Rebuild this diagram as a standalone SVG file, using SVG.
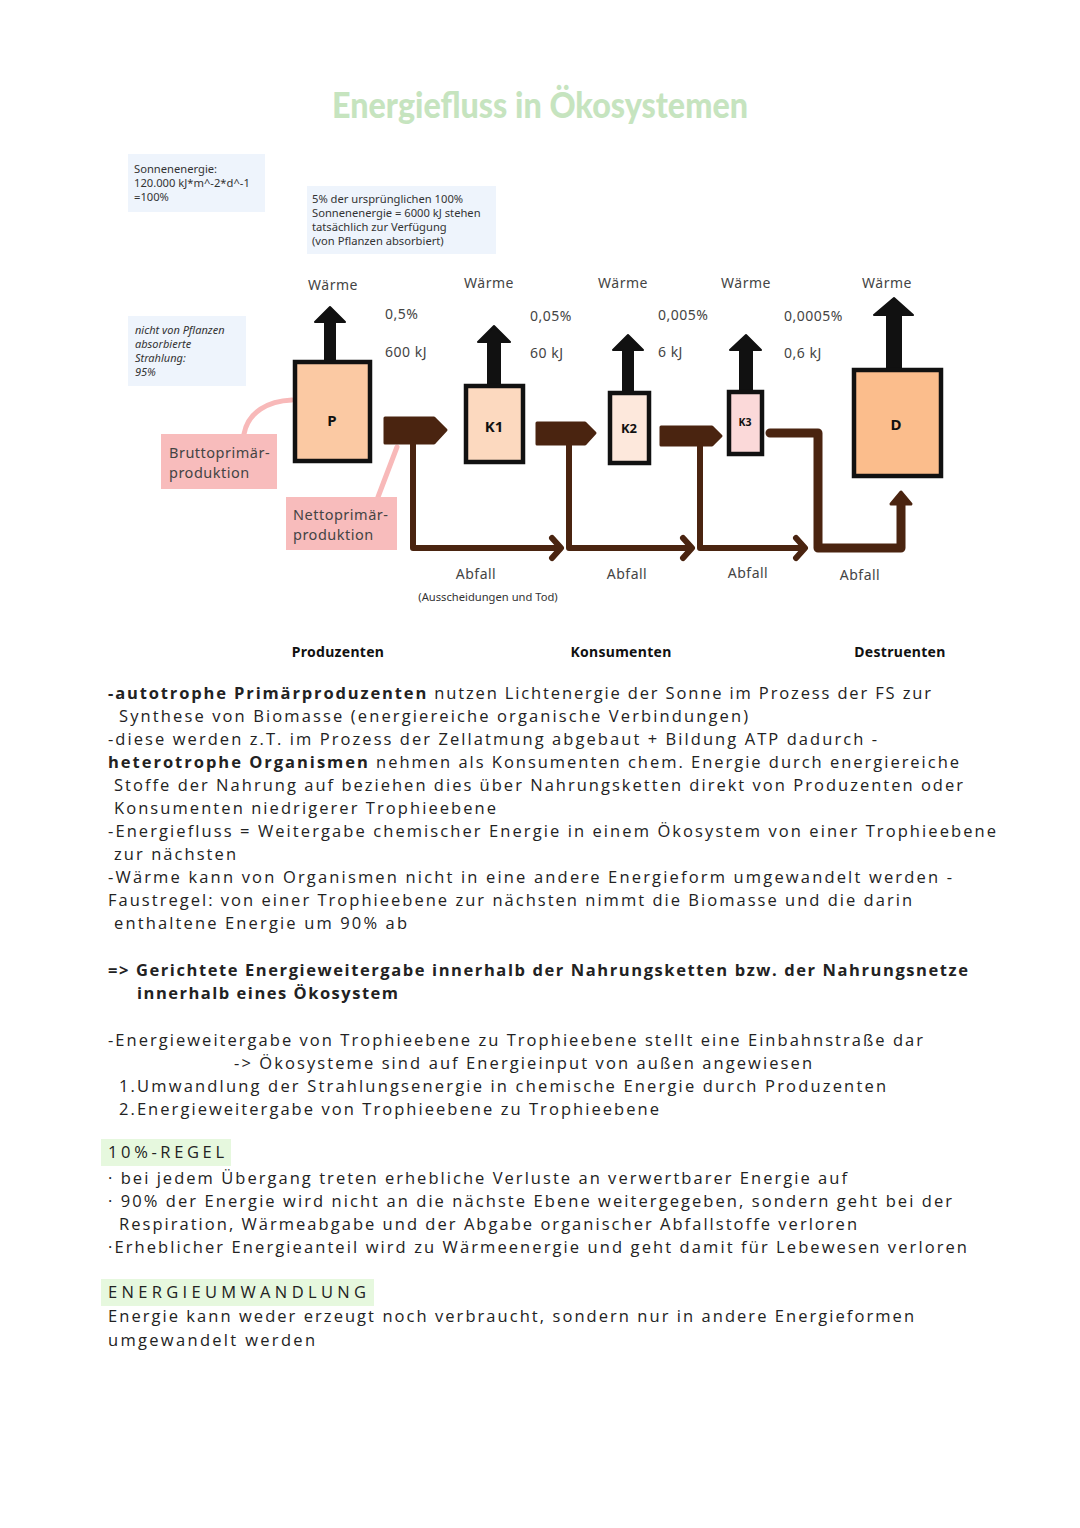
<svg xmlns="http://www.w3.org/2000/svg" width="1080" height="1528" viewBox="0 0 1080 1528">
<style>
.title{font-family:Lato,"Open Sans",sans-serif;font-weight:900;font-size:36px;fill:#c6e4bf}
.note{font-family:"Noto Sans","DejaVu Sans",sans-serif;font-size:11.2px;fill:#333}
.notei{font-family:"Noto Sans","DejaVu Sans",sans-serif;font-size:11px;fill:#333;font-style:italic}
.lbl{font-family:"Noto Sans","DejaVu Sans",sans-serif;font-size:14px;fill:#444;letter-spacing:0.5px}
.pink{font-family:"Noto Sans","DejaVu Sans",sans-serif;font-size:14.5px;fill:#444;letter-spacing:0.5px}
.node{font-family:"Noto Sans","DejaVu Sans",sans-serif;font-weight:bold;font-size:15px;fill:#111;text-anchor:middle}
.grp{font-family:"Noto Sans","DejaVu Sans",sans-serif;font-weight:bold;font-size:14px;fill:#111;text-anchor:middle;letter-spacing:0.3px}
.body{font-family:"Open Sans","Liberation Sans",sans-serif;font-size:16.5px;fill:#222;letter-spacing:1px}
.b{font-weight:bold}
.box{stroke:#111;stroke-width:4.5}
.heat{fill:#111;stroke:#111;stroke-width:2;stroke-linejoin:round}
.sign{fill:#4a2410;stroke:#4a2410;stroke-width:3;stroke-linejoin:round}
.flow{fill:none;stroke:#4a2410;stroke-width:6;stroke-linecap:round;stroke-linejoin:round}
.pinkline{fill:none;stroke:#f8b9b9;stroke-width:5;stroke-linecap:round}
</style>
<rect width="1080" height="1528" fill="#fff"/>
<text class="title" x="332" y="118" textLength="416" lengthAdjust="spacingAndGlyphs">Energiefluss in Ökosystemen</text>

<g id="note-sonne">
<rect x="128" y="154" width="137" height="58" fill="#eef4fc"/>
<text class="note" x="134" y="173">Sonnenenergie:</text>
<text class="note" x="134" y="187">120.000 kJ*m^-2*d^-1</text>
<text class="note" x="134" y="201">=100%</text>
</g>
<g id="note-absorbiert">
<rect x="307" y="186" width="189" height="68" fill="#eef4fc"/>
<text class="note" x="312" y="203">5% der ursprünglichen 100%</text>
<text class="note" x="312" y="217">Sonnenenergie = 6000 kJ stehen</text>
<text class="note" x="312" y="231">tatsächlich zur Verfügung</text>
<text class="note" x="312" y="245">(von Pflanzen absorbiert)</text>
</g>
<g id="note-nicht">
<rect x="128" y="316" width="118" height="70" fill="#eef4fc"/>
<text class="notei" x="135" y="334">nicht von Pflanzen</text>
<text class="notei" x="135" y="348">absorbierte</text>
<text class="notei" x="135" y="362">Strahlung:</text>
<text class="notei" x="135" y="376">95%</text>
</g>

<g id="connectors">
<path class="pinkline" d="M244,434 C248,412 268,401 292,400"/>
<path class="pinkline" d="M378,497 L397,447"/>
<polygon class="sign" points="385,418 434,418 446,430 434,443 385,443"/>
<polygon class="sign" points="537,423 585,423 595,433 585,444 537,444"/>
<polygon class="sign" points="661,427 712,427 721,436 712,445 661,445"/>
<path class="flow" d="M413,443 V548 H560 M552,538 L561,548 L552,558"/>
<path class="flow" d="M569,444 V548 H691 M683,538 L692,548 L683,558"/>
<path class="flow" d="M700,445 V548 H804 M796,538 L805,548 L796,558"/>
<path class="flow" style="stroke-width:9" d="M770,433 H818 V548 H901 V500"/>
<polygon class="sign" points="891,504 901,492 911,504"/>
<polygon class="heat" points="325,362 325,322 315,322 330,307 345,322 335,322 335,362"/>
<polygon class="heat" points="488,384 488,342 478,342 494,326 510,342 500,342 500,384"/>
<polygon class="heat" points="623,391 623,350 613,350 628,335 643,350 633,350 633,391"/>
<polygon class="heat" points="740,390 740,350 730,350 746,335 761,350 752,350 752,390"/>
<polygon class="heat" points="887,368 887,315 874,315 894,298 913,315 901,315 901,368"/>
</g>

<g id="node-P">
<rect class="box" x="295" y="362" width="75" height="99" fill="#fbc9a3"/>
<text class="node" x="332" y="426">P</text>
</g>
<g id="node-K1">
<rect class="box" x="466" y="386" width="57" height="76" fill="#fcd9bf"/>
<text class="node" x="494" y="432">K1</text>
</g>
<g id="node-K2">
<rect class="box" x="610" y="393" width="39" height="70" fill="#fde8dc"/>
<text class="node" x="629" y="433" style="font-size:13px">K2</text>
</g>
<g id="node-K3">
<rect class="box" x="729" y="392" width="33" height="62" fill="#fbd9d9"/>
<text class="node" x="745" y="426" style="font-size:10.5px">K3</text>
</g>
<g id="node-D">
<rect class="box" x="854" y="370" width="87" height="106" fill="#fbbd8c"/>
<text class="node" x="896" y="430">D</text>
</g>

<g id="pink-labels">
<rect x="161" y="434" width="116" height="55" fill="#f8bcbc"/>
<text class="pink" x="169" y="458">Bruttoprimär-</text>
<text class="pink" x="169" y="478">produktion</text>
<rect x="286" y="497" width="111" height="53" fill="#f8bcbc"/>
<text class="pink" x="293" y="520">Nettoprimär-</text>
<text class="pink" x="293" y="540">produktion</text>
</g>

<g id="labels">
<text class="lbl" x="333" y="290" text-anchor="middle">Wärme</text>
<text class="lbl" x="489" y="288" text-anchor="middle">Wärme</text>
<text class="lbl" x="623" y="288" text-anchor="middle">Wärme</text>
<text class="lbl" x="746" y="288" text-anchor="middle">Wärme</text>
<text class="lbl" x="887" y="288" text-anchor="middle">Wärme</text>
<text class="lbl" x="385" y="319">0,5%</text>
<text class="lbl" x="385" y="357">600 kJ</text>
<text class="lbl" x="530" y="321">0,05%</text>
<text class="lbl" x="530" y="358">60 kJ</text>
<text class="lbl" x="658" y="320">0,005%</text>
<text class="lbl" x="658" y="357">6 kJ</text>
<text class="lbl" x="784" y="321">0,0005%</text>
<text class="lbl" x="784" y="358">0,6 kJ</text>
<text class="lbl" x="476" y="579" text-anchor="middle">Abfall</text>
<text class="lbl" x="627" y="579" text-anchor="middle">Abfall</text>
<text class="lbl" x="748" y="578" text-anchor="middle">Abfall</text>
<text class="lbl" x="860" y="580" text-anchor="middle">Abfall</text>
<text class="note" x="488" y="601" text-anchor="middle">(Ausscheidungen und Tod)</text>
<text class="grp" x="338" y="657">Produzenten</text>
<text class="grp" x="621" y="657">Konsumenten</text>
<text class="grp" x="900" y="657">Destruenten</text>
</g>

<g id="text">
<text class="body" x="108" y="699" textLength="824"><tspan class="b">-autotrophe Primärproduzenten</tspan> nutzen Lichtenergie der Sonne im Prozess der FS zur</text>
<text class="body" x="119" y="722" textLength="630">Synthese von Biomasse (energiereiche organische Verbindungen)</text>
<text class="body" x="108" y="745" textLength="770">-diese werden z.T. im Prozess der Zellatmung abgebaut + Bildung ATP dadurch -</text>
<text class="body" x="108" y="768" textLength="852"><tspan class="b">heterotrophe Organismen</tspan> nehmen als Konsumenten chem. Energie durch energiereiche</text>
<text class="body" x="114" y="791" textLength="850">Stoffe der Nahrung auf beziehen dies über Nahrungsketten direkt von Produzenten oder</text>
<text class="body" x="114" y="814" textLength="383">Konsumenten niedrigerer Trophieebene</text>
<text class="body" x="108" y="837" textLength="889">-Energiefluss = Weitergabe chemischer Energie in einem Ökosystem von einer Trophieebene</text>
<text class="body" x="114" y="860" textLength="123">zur nächsten</text>
<text class="body" x="108" y="883" textLength="845">-Wärme kann von Organismen nicht in eine andere Energieform umgewandelt werden -</text>
<text class="body" x="108" y="906" textLength="805">Faustregel: von einer Trophieebene zur nächsten nimmt die Biomasse und die darin</text>
<text class="body" x="114" y="929" textLength="294">enthaltene Energie um 90% ab</text>
<text class="body b" x="108" y="976" textLength="861">=&gt; Gerichtete Energieweitergabe innerhalb der Nahrungsketten bzw. der Nahrungsnetze</text>
<text class="body b" x="137" y="999" textLength="262">innerhalb eines Ökosystem</text>
<text class="body" x="108" y="1046" textLength="816">-Energieweitergabe von Trophieebene zu Trophieebene stellt eine Einbahnstraße dar</text>
<text class="body" x="234" y="1069" textLength="579">-&gt; Ökosysteme sind auf Energieinput von außen angewiesen</text>
<text class="body" x="119" y="1092" textLength="768">1.Umwandlung der Strahlungsenergie in chemische Energie durch Produzenten</text>
<text class="body" x="119" y="1115" textLength="541">2.Energieweitergabe von Trophieebene zu Trophieebene</text>
<rect x="101" y="1139" width="130" height="27" fill="#e6f8de"/>
<text class="body" x="108" y="1158" textLength="117">10%-REGEL</text>
<text class="body" x="108" y="1184" textLength="740">· bei jedem Übergang treten erhebliche Verluste an verwertbarer Energie auf</text>
<text class="body" x="108" y="1207" textLength="845">· 90% der Energie wird nicht an die nächste Ebene weitergegeben, sondern geht bei der</text>
<text class="body" x="119" y="1230" textLength="739">Respiration, Wärmeabgabe und der Abgabe organischer Abfallstoffe verloren</text>
<text class="body" x="108" y="1253" textLength="860">·Erheblicher Energieanteil wird zu Wärmeenergie und geht damit für Lebewesen verloren</text>
<rect x="101" y="1279" width="273" height="27" fill="#e6f8de"/>
<text class="body" x="108" y="1298" textLength="259">ENERGIEUMWANDLUNG</text>
<text class="body" x="108" y="1322" textLength="807">Energie kann weder erzeugt noch verbraucht, sondern nur in andere Energieformen</text>
<text class="body" x="108" y="1346" textLength="208">umgewandelt werden</text>
</g>
</svg>
